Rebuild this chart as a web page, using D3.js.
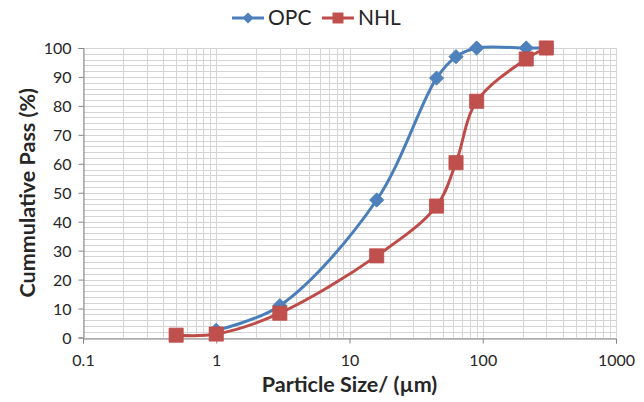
<!DOCTYPE html>
<html>
<head>
<meta charset="utf-8">
<script src="https://cdn.jsdelivr.net/npm/d3@7"></script>
<style>
  body { margin: 0; background: #fff; }
  text { font-family: Lato, "Open Sans", sans-serif; }
</style>
</head>
<body>
<div id="chart"></div>
<script>
// particle size (µm) and cumulative pass (%)
const opcSize = [1, 3, 16, 45, 63, 90, 212, 300];
const opcPass = [2.5, 11, 47.5, 89.6, 97, 100, 100, 100];
const nhlSize = [0.5, 1, 3, 16, 45, 63, 90, 212, 300];
const nhlPass = [0.8, 1.2, 8.4, 28.2, 45.4, 60.4, 81.6, 96.2, 100];
const xTicks = [0.1, 1, 10, 100, 1000];
const yTicks = [0, 10, 20, 30, 40, 50, 60, 70, 80, 90, 100];

const width = 644, height = 402;
const margin = { top: 48, right: 28, bottom: 64.5, left: 83 };

const svg = d3.select("#chart").append("svg")
  .attr("width", width)
  .attr("height", height);

const x = d3.scaleLog().domain([0.1, 1000]).range([margin.left, width - margin.right]);
const y = d3.scaleLinear().domain([0, 100]).range([height - margin.bottom, margin.top]);

// grid lines
const grid = svg.append("g").attr("stroke", "#d4d4d4").attr("stroke-width", 1);
const xGrid = [];
[0.1, 1, 10, 100].forEach(d => { for (let k = 1; k < 10; k++) xGrid.push(d * k); });
xGrid.push(1000);
grid.selectAll(".vx").data(xGrid).enter().append("line")
  .attr("x1", d => Math.round(x(d)) + 0.5).attr("x2", d => Math.round(x(d)) + 0.5)
  .attr("y1", y(0)).attr("y2", y(100));
grid.selectAll(".hy").data(d3.range(0, 101, 2)).enter().append("line")
  .attr("x1", x(0.1)).attr("x2", x(1000))
  .attr("y1", d => Math.round(y(d)) + 0.5).attr("y2", d => Math.round(y(d)) + 0.5);

// axes
const xAxis = svg.append("g")
  .attr("transform", `translate(0, ${Math.round(y(0)) + 0.5})`)
  .call(d3.axisBottom(x).tickValues(xTicks).tickFormat(d => d).tickSizeOuter(0).tickSize(5));
const yAxis = svg.append("g")
  .attr("transform", `translate(${Math.round(x(0.1)) + 0.5}, 0)`)
  .call(d3.axisLeft(y).tickValues(yTicks).tickSizeOuter(0).tickSize(5));

[xAxis, yAxis].forEach(a => {
  a.select(".domain").attr("stroke", "#868686");
  a.selectAll(".tick line").attr("stroke", "#868686");
  a.selectAll("text").attr("fill", "#262626").style("font-size", "16px")
    .style("font-family", "Lato, 'Open Sans', sans-serif");
});
xAxis.selectAll("text").attr("dy", "1.2em");
yAxis.selectAll("text").attr("dx", "-4").attr("dy", "0.35em");

// axis titles
svg.append("text")
  .attr("x", (x(0.1) + x(1000)) / 2)
  .attr("y", 392)
  .attr("text-anchor", "middle")
  .style("font-size", "21.5px").style("font-weight", "bold").attr("fill", "#262626")
  .text("Particle Size/ (µm)");
svg.append("text")
  .attr("transform", `translate(35, ${(y(0) + y(100)) / 2}) rotate(-90)`)
  .attr("text-anchor", "middle")
  .style("font-size", "21.5px").style("font-weight", "bold").attr("fill", "#262626")
  .text("Cummulative Pass (%)");

// series
const series = [
  { name: "OPC", size: opcSize, pass: opcPass, line: "#4a7ebb", fill: "#4f81bd", shape: d3.symbolDiamond2 },
  { name: "NHL", size: nhlSize, pass: nhlPass, line: "#be4b48", fill: "#c0504d", shape: d3.symbolSquare }
];

const line = d3.line()
  .x(d => x(d[0]))
  .y(d => y(d[1]))
  .curve(d3.curveCatmullRom.alpha(0.5));

series.forEach(s => {
  const pts = s.size.map((v, i) => [v, s.pass[i]]);
  svg.append("path")
    .datum(pts)
    .attr("d", line)
    .attr("fill", "none")
    .attr("stroke", s.line)
    .attr("stroke-width", 3);
  svg.selectAll(".m-" + s.name).data(pts).enter().append("path")
    .attr("transform", d => `translate(${x(d[0])}, ${y(d[1])})`)
    .attr("d", d3.symbol().type(s.shape).size(s.name === "OPC" ? 130 : 200))
    .attr("fill", s.fill)
    .attr("stroke", s.line)
    .attr("stroke-width", 0.8);
});

// legend
const legend = svg.append("g").attr("transform", "translate(0, 18)");
const legendX = [232, 322];
series.forEach((s, i) => {
  const g = legend.append("g").attr("transform", `translate(${legendX[i]}, 0)`);
  g.append("line").attr("x1", 0).attr("x2", 32).attr("stroke", s.line).attr("stroke-width", 3);
  g.append("path")
    .attr("transform", "translate(16, 0)")
    .attr("d", d3.symbol().type(s.shape).size(s.name === "OPC" ? 80 : 120))
    .attr("fill", s.fill);
  g.append("text").attr("x", 36).attr("dy", "0.35em")
    .style("font-size", "21px").attr("fill", "#262626")
    .text(s.name);
});
</script>
</body>
</html>
